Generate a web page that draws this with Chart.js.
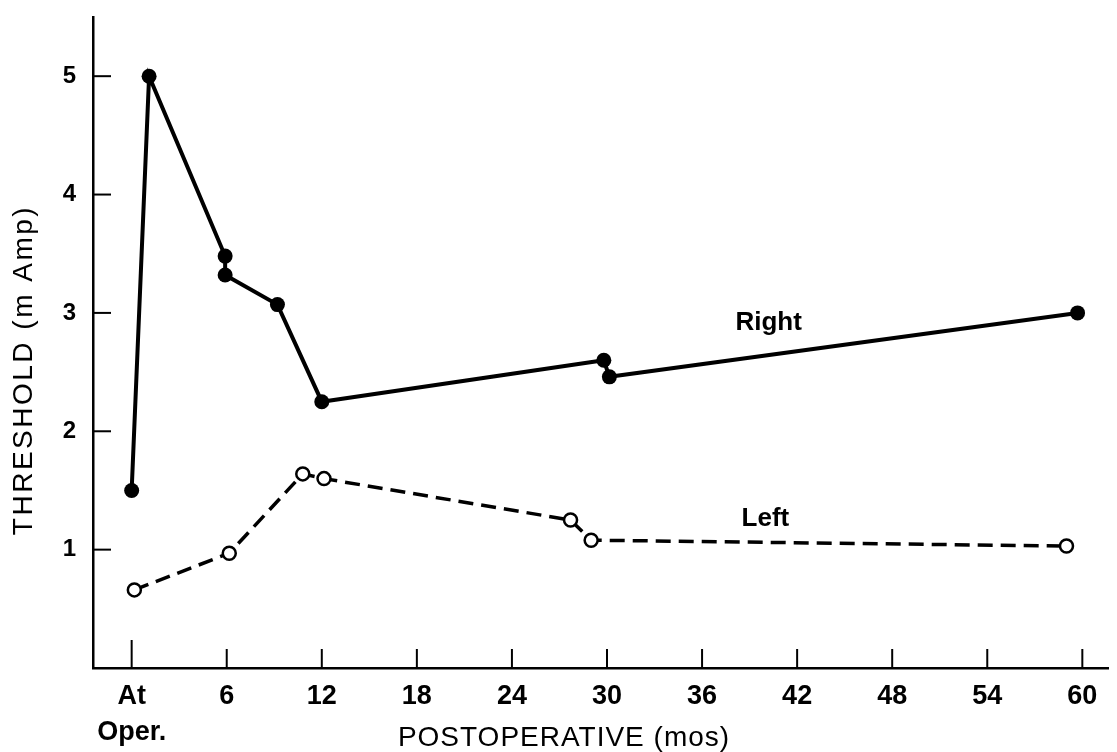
<!DOCTYPE html>
<html>
<head>
<meta charset="utf-8">
<script src="https://cdn.jsdelivr.net/npm/chart.js@4.4.1/dist/chart.umd.min.js"></script>
<style>
  html, body { margin: 0; padding: 0; background: #fff; }
  #wrap { width: 1117px; height: 752px; }
</style>
</head>
<body>
<div id="wrap"><canvas id="myChart"></canvas></div>
<script>
// months after operation vs stimulation threshold
const rightMonths = [0, 1.1, 5.9, 5.9, 9.2, 12.0, 29.8, 30.15, 59.7]
const rightThreshold = [1.5, 5.0, 3.48, 3.32, 3.07, 2.25, 2.6, 2.46, 3.0]
const leftMonths = [0.17, 6.16, 10.8, 12.14, 27.7, 29.0, 59.0]
const leftThreshold = [0.66, 0.97, 1.64, 1.60, 1.25, 1.08, 1.03]

const xTicks = [0, 6, 12, 18, 24, 30, 36, 42, 48, 54, 60]
const yTicks = [1, 2, 3, 4, 5]
const seriesNames = ['Right', 'Left']
const nameSpots = [[40.2, 2.92], [40.0, 1.26]]  // in months / mAmp

const xTitle = 'POSTOPERATIVE (mos)'
const yTitle = 'THRESHOLD (m Amp)'

const toPoints = (xs, ys) => xs.map((v, i) => ({ x: v, y: ys[i] }))

const paperAxes = {
    id: 'paperAxes',
    beforeDraw(chart) {
        const ctx = chart.ctx
        ctx.save()
        ctx.fillStyle = '#fff'
        ctx.fillRect(0, 0, chart.width, chart.height)
        ctx.restore()
    },
    afterDraw(chart) {
        const { ctx, chartArea, scales: { x, y } } = chart
        ctx.save()
        ctx.strokeStyle = '#000'
        ctx.lineWidth = 2
        // tick marks point inward, like the drawn original
        yTicks.forEach(v => {
            const py = y.getPixelForValue(v)
            ctx.beginPath()
            ctx.moveTo(chartArea.left, py)
            ctx.lineTo(chartArea.left + 18, py)
            ctx.stroke()
        })
        xTicks.forEach(v => {
            const px = x.getPixelForValue(v)
            const len = v === 0 ? 28 : 19
            ctx.beginPath()
            ctx.moveTo(px, chartArea.bottom)
            ctx.lineTo(px, chartArea.bottom - len)
            ctx.stroke()
        })

        ctx.fillStyle = '#000'
        ctx.textAlign = 'center'
        ctx.textBaseline = 'middle'
        ctx.font = 'bold 26px "Liberation Sans"'
        seriesNames.forEach((name, i) => {
            ctx.fillText(name, x.getPixelForValue(nameSpots[i][0]), y.getPixelForValue(nameSpots[i][1]))
        })

        ctx.font = '28px "Liberation Sans"'
        ctx.letterSpacing = '1px'
        ctx.fillText(xTitle, 564, 738)
        ctx.letterSpacing = '2.5px'
        ctx.translate(24, 370)
        ctx.rotate(-Math.PI / 2)
        ctx.fillText(yTitle, 0, 0)
        ctx.restore()
    }
}

const config = {
    type: 'scatter',
    data: {
        datasets: [{
            label: seriesNames[0],
            data: toPoints(rightMonths, rightThreshold),
            showLine: true,
            borderColor: '#000',
            borderWidth: 4,
            pointRadius: 7.5,
            pointBackgroundColor: '#000',
            pointBorderWidth: 0,
            clip: false
        }, {
            label: seriesNames[1],
            data: toPoints(leftMonths, leftThreshold),
            showLine: true,
            borderColor: '#000',
            borderWidth: 3.5,
            borderDash: [15, 8],
            pointRadius: 6.5,
            pointBackgroundColor: '#fff',
            pointBorderColor: '#000',
            pointBorderWidth: 2.5,
            clip: false
        }]
    },
    options: {
        responsive: true,
        maintainAspectRatio: false,
        animation: false,
        events: [],
        layout: { padding: { top: 17, right: 0, left: 0, bottom: 0 } },
        plugins: { legend: { display: false }, tooltip: { enabled: false } },
        scales: {
            x: {
                type: 'linear',
                min: -2.44,
                max: 61.62,
                afterBuildTicks: s => { s.ticks = xTicks.map(v => ({ value: v })) },
                afterFit: s => { s.height = 84 },
                grid: { display: false, drawTicks: false },
                border: { color: '#000', width: 2.5 },
                ticks: {
                    color: '#000',
                    padding: 10,
                    maxRotation: 0,
                    autoSkip: false,
                    font: { family: 'Liberation Sans', weight: 'bold', size: 27, lineHeight: 1.35 },
                    callback: v => v === 0 ? ['At', 'Oper.'] : v
                }
            },
            y: {
                min: 0,
                max: 5.5,
                afterBuildTicks: s => { s.ticks = yTicks.map(v => ({ value: v })) },
                afterFit: s => { s.width = 93; s.paddingTop = 0; s.paddingBottom = 0 },
                grid: { display: false, drawTicks: false },
                border: { color: '#000', width: 2.5 },
                ticks: {
                    color: '#000',
                    padding: 17,
                    font: { family: 'Liberation Sans', weight: 'bold', size: 24 }
                }
            }
        }
    },
    plugins: [paperAxes]
}

new Chart(document.getElementById('myChart'), config)
</script>
</body>
</html>
